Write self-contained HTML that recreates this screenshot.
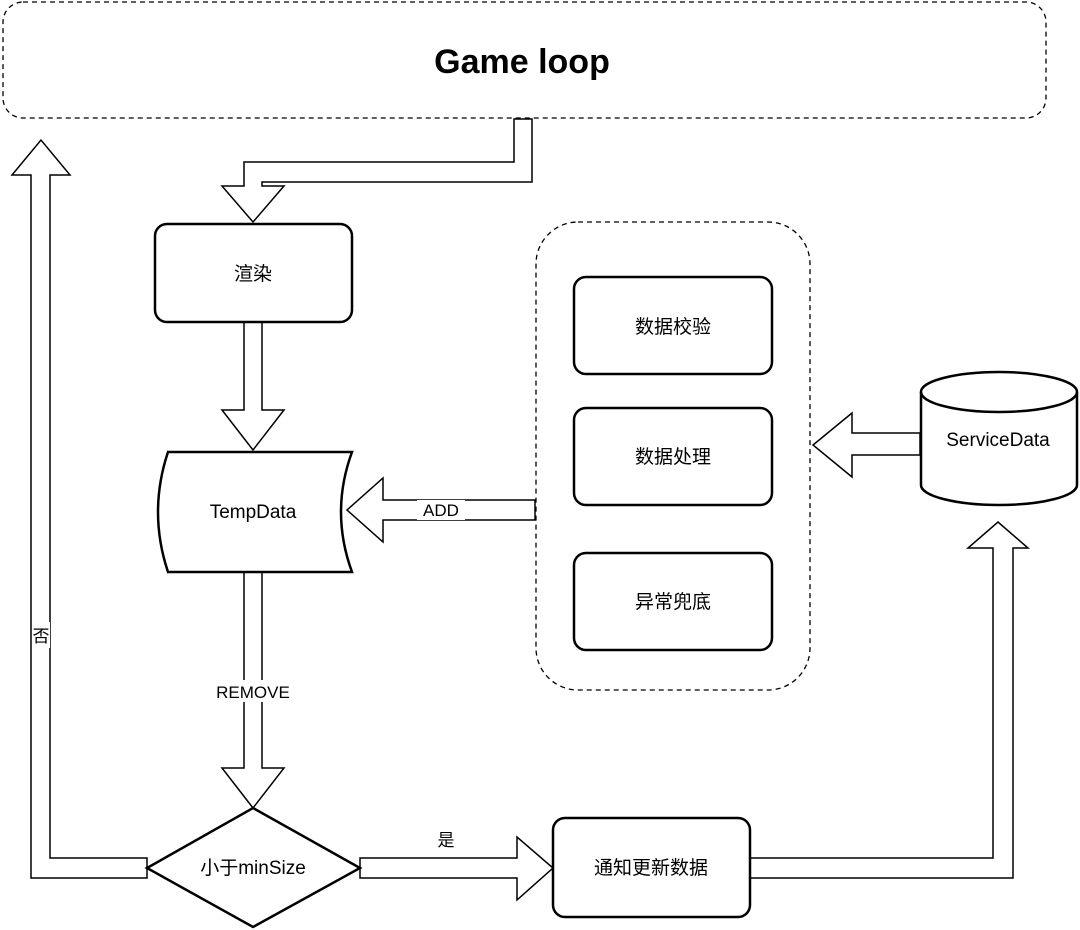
<!DOCTYPE html>
<html><head><meta charset="utf-8"><style>
html,body{margin:0;padding:0;background:#fff;}
svg{display:block;}
text{font-family:"Liberation Sans","Noto Sans CJK SC",sans-serif;fill:#000;}
</style></head><body>
<svg width="1080" height="930" viewBox="0 0 1080 930" xmlns="http://www.w3.org/2000/svg">
<rect x="3" y="2" width="1043" height="116" rx="20" fill="#fff" stroke="#000" stroke-width="1.3" stroke-dasharray="5,4"/>
<text x="522" y="73" font-size="34" font-weight="bold" text-anchor="middle">Game loop</text>
<rect x="536" y="222" width="274" height="468" rx="42" fill="none" stroke="#000" stroke-width="1.3" stroke-dasharray="5,4"/>
<g fill="#fff" stroke="#000" stroke-width="1.5">
<polygon points="514,119 532,119 532,182 262,182 262,186 284,186 253,222 222,186 244,186 244,162 514,162"/>
<polygon points="244,322 262,322 262,410 284,410 253,450 222,410 244,410"/>
<polygon points="244,572 262,572 262,768 284,768 253,808 222,768 244,768"/>
<polygon points="535,500 535,520 383,520 383,542 347,510 383,478 383,500"/>
<polygon points="920,433 920,455 852,455 852,477 813,445 852,413 852,433"/>
<polygon points="147,858 147,878 31,878 31,175 12,175 41,140 70,175 50,175 50,858"/>
<polygon points="360,858 517,858 517,837 553,868 517,900 517,878 360,878"/>
<polygon points="750,858 993,858 993,548 968,548 998,522 1028,548 1013,548 1013,878 750,878"/>
</g>
<g fill="#fff" stroke="#000" stroke-width="2.5">
<rect x="155" y="224" width="197" height="98" rx="12"/>
<path d="M168,452 L352,452 Q330,512 352,572 L168,572 Q148,512 168,452 Z"/>
<rect x="574" y="277" width="198" height="97" rx="12"/>
<rect x="574" y="408" width="198" height="97" rx="12"/>
<rect x="574" y="553" width="198" height="97" rx="12"/>
<polygon points="253,808 360,868 253,927 147,868"/>
<rect x="553" y="818" width="197" height="99" rx="12"/>
<path d="M921,392 A78,20 0 0 1 1077,392 L1077,485 A78,20 0 0 1 921,485 Z"/>
<path d="M921,392 A78,20 0 0 0 1077,392" fill="none"/>
</g>
<rect x="417" y="500" width="48" height="20" fill="#fff"/>
<text x="441" y="516" font-size="17" text-anchor="middle">ADD</text>
<rect x="207" y="680" width="92" height="22" fill="#fff"/>
<text x="253" y="698" font-size="17" text-anchor="middle">REMOVE</text>
<rect x="32" y="622" width="18" height="26" fill="#fff"/>
<text x="41" y="642" font-size="17" text-anchor="middle">否</text>
<text x="446" y="846" font-size="17" text-anchor="middle">是</text>
<g font-size="19" text-anchor="middle">
<text x="253" y="280">渲染</text>
<text x="253" y="518">TempData</text>
<text x="673" y="333">数据校验</text>
<text x="673" y="463">数据处理</text>
<text x="673" y="608">异常兜底</text>
<text x="253" y="874">小于minSize</text>
<text x="651" y="874">通知更新数据</text>
<text x="998" y="446">ServiceData</text>
</g>
</svg>
</body></html>
